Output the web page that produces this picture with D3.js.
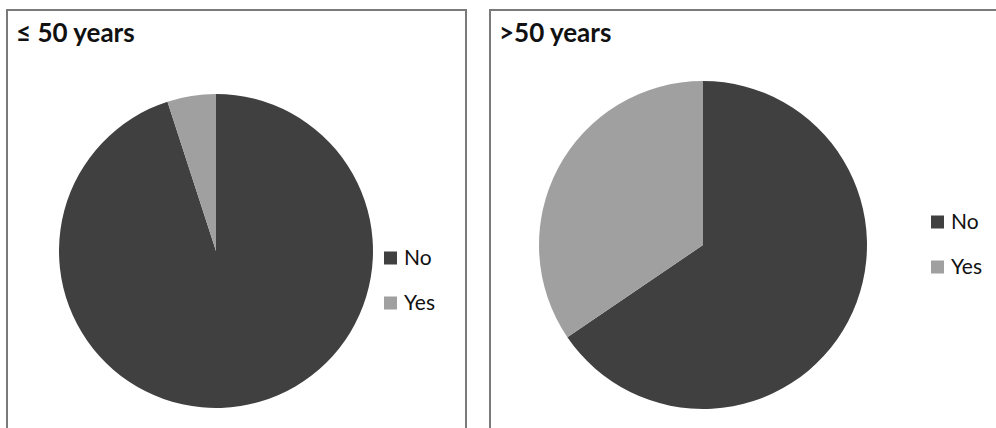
<!DOCTYPE html>
<html>
<head>
<meta charset="utf-8">
<script src="https://cdn.jsdelivr.net/npm/d3@7"></script>
<style>
  html, body { margin: 0; padding: 0; background: #fff; }
  svg { display: block; }
</style>
</head>
<body>
<svg id="chart" width="996" height="428"></svg>
<script>
// Answer categories shared by both pies
const categories = ["No", "Yes"];
// Panel titles (age groups)
const panelTitles = ["≤ 50 years", ">50 years"];
// Share of respondents (%) per category, one array per age group
const valuesUpTo50 = [95, 5];
const valuesOver50 = [65.5, 34.5];

const colour = d3.scaleOrdinal().domain(categories).range(["#404040", "#a0a0a0"]);

const panels = [
  { title: panelTitles[0], values: valuesUpTo50, x: 7, w: 459, cx: 216, cy: 251, r: 157, legX: 384, legY: 258 },
  { title: panelTitles[1], values: valuesOver50, x: 490, w: 540, cx: 703, cy: 245, r: 164, legX: 931, legY: 222 }
];

const svg = d3.select("#chart");
const pie = d3.pie().sort(null).startAngle(0).endAngle(2 * Math.PI);

panels.forEach(p => {
  const g = svg.append("g");

  // panel frame
  g.append("rect")
    .attr("x", p.x).attr("y", 10)
    .attr("width", p.w).attr("height", 440)
    .attr("fill", "#fff")
    .attr("stroke", "#7a7a7a").attr("stroke-width", 2);

  g.append("text")
    .attr("x", p.x + 9).attr("y", 42)
    .attr("font-family", "Lato, 'Open Sans', sans-serif")
    .attr("font-weight", 700)
    .attr("font-size", 26)
    .attr("fill", "#111")
    .text(p.title);

  const arc = d3.arc().innerRadius(0).outerRadius(p.r);
  const data = categories.map((c, i) => ({ c, v: p.values[i] }));

  g.append("g")
    .attr("transform", `translate(${p.cx},${p.cy})`)
    .selectAll("path")
    .data(pie.value(d => d.v)(data))
    .join("path")
    .attr("d", arc)
    .attr("fill", d => colour(d.data.c));

  const leg = g.append("g").attr("transform", `translate(${p.legX},${p.legY})`);
  categories.forEach((c, i) => {
    const row = leg.append("g").attr("transform", `translate(0,${i * 45})`);
    row.append("rect")
      .attr("x", 0).attr("y", -6.5).attr("width", 13).attr("height", 13)
      .attr("fill", colour(c));
    row.append("text")
      .attr("x", 20).attr("y", 0)
      .attr("dy", "0.35em")
      .attr("font-family", "Lato, 'Open Sans', sans-serif")
      .attr("font-size", 21)
      .attr("fill", "#111")
      .text(c);
  });
});
</script>
</body>
</html>
